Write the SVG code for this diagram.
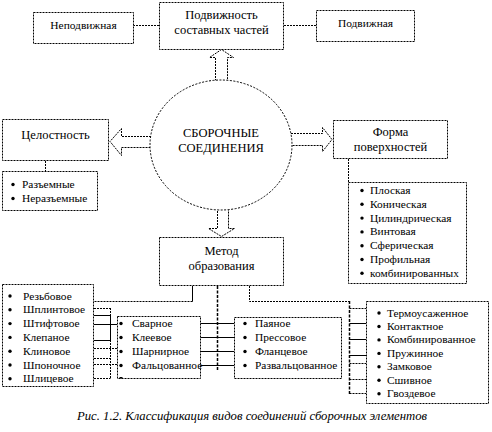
<svg xmlns="http://www.w3.org/2000/svg" width="492" height="432" viewBox="0 0 492 432">
<style>
.box{fill:#fff;stroke:#000;stroke-width:1;stroke-dasharray:2 1}
.arr{fill:#fff;stroke:#000;stroke-width:1;stroke-dasharray:2 1}
.ell{fill:#fff;stroke:#000;stroke-width:1;stroke-dasharray:2 1.5}
.t{font-family:"Liberation Serif","Times New Roman",serif;fill:#000}
.big{font-size:12.5px}
.sm{font-size:11.4px}
.cap{font-size:12px;font-style:italic}
.dot{stroke:#000;stroke-width:1;stroke-dasharray:2 1;fill:none}
.sol{stroke:#000;stroke-width:1;fill:none}
.dash{stroke:#000;stroke-width:1.5;stroke-dasharray:3 1.5;fill:none}
.b{fill:#000}
</style>
<rect width="492" height="432" fill="#fff"/>

<g id="connectors">
  <line class="dot" x1="133" y1="25.5" x2="159" y2="25.5"/>
  <line class="dot" x1="284" y1="25.5" x2="316" y2="25.5"/>
  <line class="dot" x1="45.5" y1="161" x2="45.5" y2="171"/>
  <line class="dot" x1="348.5" y1="159" x2="348.5" y2="182"/>
  <line class="sol" x1="192.5" y1="286" x2="192.5" y2="301.5"/>
  <line class="dot" x1="192.5" y1="301.5" x2="93" y2="301.5"/>
  <line class="dot" x1="110.5" y1="308" x2="110.5" y2="315"/>
  <line class="sol" x1="110.5" y1="315" x2="110.5" y2="340"/>
  <line class="dot" x1="110.5" y1="340" x2="110.5" y2="378"/>
  <line class="dot" x1="94" y1="308.5" x2="110.5" y2="308.5"/>
  <line class="sol" x1="94" y1="315.5" x2="110.5" y2="315.5"/>
  <line class="sol" x1="94" y1="324.5" x2="117" y2="324.5"/>
  <line class="sol" x1="94" y1="340.5" x2="110.5" y2="340.5"/>
  <line class="dot" x1="94" y1="348.5" x2="117" y2="348.5"/>
  <line class="dot" x1="94" y1="358.5" x2="110.5" y2="358.5"/>
  <line class="dot" x1="94" y1="364.5" x2="117" y2="364.5"/>
  <line class="dot" x1="94" y1="378.5" x2="110.5" y2="378.5"/>
  <line class="dash" x1="217.5" y1="286" x2="217.5" y2="371"/>
  <line class="sol" x1="200" y1="323.5" x2="234" y2="323.5"/>
  <line class="sol" x1="200" y1="337.5" x2="234" y2="337.5"/>
  <line class="sol" x1="200" y1="351.5" x2="234" y2="351.5"/>
  <line class="sol" x1="200" y1="365.5" x2="234" y2="365.5"/>
  <polyline class="dot" points="249.5,286 249.5,301.5 349.5,301.5"/>
  <line class="dash" x1="349.5" y1="301" x2="349.5" y2="394"/>
  <line class="dot" x1="349.5" y1="308.5" x2="366" y2="308.5"/>
  <line class="sol" x1="349.5" y1="323.5" x2="366" y2="323.5"/>
  <line class="sol" x1="349.5" y1="339.5" x2="366" y2="339.5"/>
  <line class="sol" x1="349.5" y1="355.5" x2="366" y2="355.5"/>
  <line class="dot" x1="349.5" y1="363.5" x2="366" y2="363.5"/>
  <line class="dot" x1="349.5" y1="379.5" x2="366" y2="379.5"/>
  <line class="dot" x1="349.5" y1="393.5" x2="366" y2="393.5"/>
  <polygon class="arr" points="215.5,84 215.5,57.5 209.5,57.5 221.5,49.5 233.5,57.5 227.5,57.5 227.5,84"/>
  <polygon class="arr" points="154,136.5 121.5,136.5 121.5,128.5 110,141.5 121.5,155.5 121.5,147.5 154,147.5"/>
  <polygon class="arr" points="288,133.5 322.5,133.5 322.5,127.5 332,139.5 322.5,151.5 322.5,145.5 288,145.5"/>
  <polygon class="arr" points="217.5,205 217.5,228.5 208.5,228.5 221.5,236.5 234.5,228.5 228.5,228.5 228.5,205"/>
</g>

<g id="center">
  <ellipse class="ell" cx="221" cy="145" rx="71" ry="65"/>
  <text class="t big" x="221" y="137" text-anchor="middle">СБОРОЧНЫЕ</text>
  <text class="t big" x="221" y="152" text-anchor="middle">СОЕДИНЕНИЯ</text>
</g>

<g id="mobility">
  <rect class="box" x="159.5" y="2.5" width="124" height="47"/>
  <text class="t big" x="221.5" y="19" text-anchor="middle">Подвижность</text>
  <text class="t big" x="221.5" y="34" text-anchor="middle">составных частей</text>
</g>
<g id="fixed">
  <rect class="box" x="33.5" y="12.5" width="100" height="31"/>
  <text class="t sm" x="83.5" y="29" text-anchor="middle">Неподвижная</text>
</g>
<g id="movable">
  <rect class="box" x="316.5" y="10.5" width="98" height="31"/>
  <text class="t sm" x="365.5" y="27" text-anchor="middle">Подвижная</text>
</g>

<g id="integrity">
  <rect class="box" x="2.5" y="119.5" width="106" height="41"/>
  <text class="t big" x="55.5" y="138.5" text-anchor="middle">Целостность</text>
</g>
<g id="integrity-list">
  <rect class="box" x="2.5" y="171.5" width="95" height="39"/>
  <circle class="b" cx="13" cy="184.5" r="1.7"/>
  <circle class="b" cx="13" cy="198.5" r="1.7"/>
  <text class="t sm" x="22" y="188">Разъемные</text>
  <text class="t sm" x="22" y="202">Неразъемные</text>
</g>

<g id="shape">
  <rect class="box" x="333.5" y="120.5" width="114" height="38"/>
  <text class="t big" x="390.5" y="136" text-anchor="middle">Форма</text>
  <text class="t big" x="390.5" y="151" text-anchor="middle">поверхностей</text>
</g>
<g id="shape-list">
  <rect class="box" x="348.5" y="182.5" width="118" height="101"/>
  <g class="b">
    <circle cx="362" cy="190.5" r="1.7"/><circle cx="362" cy="204.3" r="1.7"/><circle cx="362" cy="218.1" r="1.7"/>
    <circle cx="362" cy="231.9" r="1.7"/><circle cx="362" cy="245.7" r="1.7"/><circle cx="362" cy="259.5" r="1.7"/>
    <circle cx="362" cy="273.3" r="1.7"/>
  </g>
  <text class="t sm" x="370" y="194">Плоская</text>
  <text class="t sm" x="370" y="207.8">Коническая</text>
  <text class="t sm" x="370" y="221.6">Цилиндрическая</text>
  <text class="t sm" x="370" y="235.4">Винтовая</text>
  <text class="t sm" x="370" y="249.2">Сферическая</text>
  <text class="t sm" x="370" y="263">Профильная</text>
  <text class="t sm" x="370" y="276.8">комбинированных</text>
</g>

<g id="method">
  <rect class="box" x="159.5" y="237.5" width="124" height="48"/>
  <text class="t big" x="221.5" y="255" text-anchor="middle">Метод</text>
  <text class="t big" x="221.5" y="270" text-anchor="middle">образования</text>
</g>

<g id="list-left">
  <rect class="box" x="2.5" y="284.5" width="91" height="102"/>
  <g class="b">
    <circle cx="10" cy="296" r="1.7"/><circle cx="10" cy="309.8" r="1.7"/><circle cx="10" cy="323.6" r="1.7"/>
    <circle cx="10" cy="337.4" r="1.7"/><circle cx="10" cy="351.2" r="1.7"/><circle cx="10" cy="365" r="1.7"/>
    <circle cx="10" cy="378.8" r="1.7"/>
  </g>
  <text class="t sm" x="23" y="299.5">Резьбовое</text>
  <text class="t sm" x="23" y="313.3">Шплинтовое</text>
  <text class="t sm" x="23" y="327.1">Штифтовое</text>
  <text class="t sm" x="23" y="340.9">Клепаное</text>
  <text class="t sm" x="23" y="354.7">Клиновое</text>
  <text class="t sm" x="23" y="368.5">Шпоночное</text>
  <text class="t sm" x="23" y="382.3">Шлицевое</text>
</g>

<g id="list-mid">
  <rect class="box" x="117.5" y="316.5" width="83" height="62"/>
  <g class="b">
    <circle cx="121" cy="323.5" r="1.7"/><circle cx="121" cy="337.5" r="1.7"/><circle cx="121" cy="351.5" r="1.7"/>
    <circle cx="121" cy="365.5" r="1.7"/>
    <rect x="119.5" y="377" width="3" height="1.5"/>
  </g>
  <text class="t sm" x="132" y="327">Сварное</text>
  <text class="t sm" x="132" y="341">Клеевое</text>
  <text class="t sm" x="132" y="355">Шарнирное</text>
  <text class="t sm" x="132" y="369">Фальцованное</text>
</g>

<g id="list-mid2">
  <rect class="box" x="234.5" y="317.5" width="107" height="61"/>
  <g class="b">
    <circle cx="245" cy="323.5" r="1.7"/><circle cx="245" cy="337.5" r="1.7"/><circle cx="245" cy="351.5" r="1.7"/>
    <circle cx="245" cy="365.5" r="1.7"/>
  </g>
  <text class="t sm" x="255" y="327">Паяное</text>
  <text class="t sm" x="255" y="341">Прессовое</text>
  <text class="t sm" x="255" y="355">Фланцевое</text>
  <text class="t sm" x="255" y="369">Развальцованное</text>
</g>

<g id="list-right">
  <rect class="box" x="366.5" y="301.5" width="122" height="102"/>
  <g class="b">
    <circle cx="379" cy="313" r="1.7"/><circle cx="379" cy="326.5" r="1.7"/><circle cx="379" cy="339.9" r="1.7"/>
    <circle cx="379" cy="353.4" r="1.7"/><circle cx="379" cy="366.8" r="1.7"/><circle cx="379" cy="380.3" r="1.7"/>
    <circle cx="379" cy="393.7" r="1.7"/>
  </g>
  <text class="t sm" x="387" y="316.5">Термоусаженное</text>
  <text class="t sm" x="387" y="330">Контактное</text>
  <text class="t sm" x="387" y="343.4">Комбинированное</text>
  <text class="t sm" x="387" y="356.9">Пружинное</text>
  <text class="t sm" x="387" y="370.3">Замковое</text>
  <text class="t sm" x="387" y="383.8">Сшивное</text>
  <text class="t sm" x="387" y="397.2">Гвоздевое</text>
</g>

<text class="t cap" x="77" y="420" textLength="350" lengthAdjust="spacingAndGlyphs">Рис. 1.2. Классификация видов соединений сборочных элементов</text>
</svg>
